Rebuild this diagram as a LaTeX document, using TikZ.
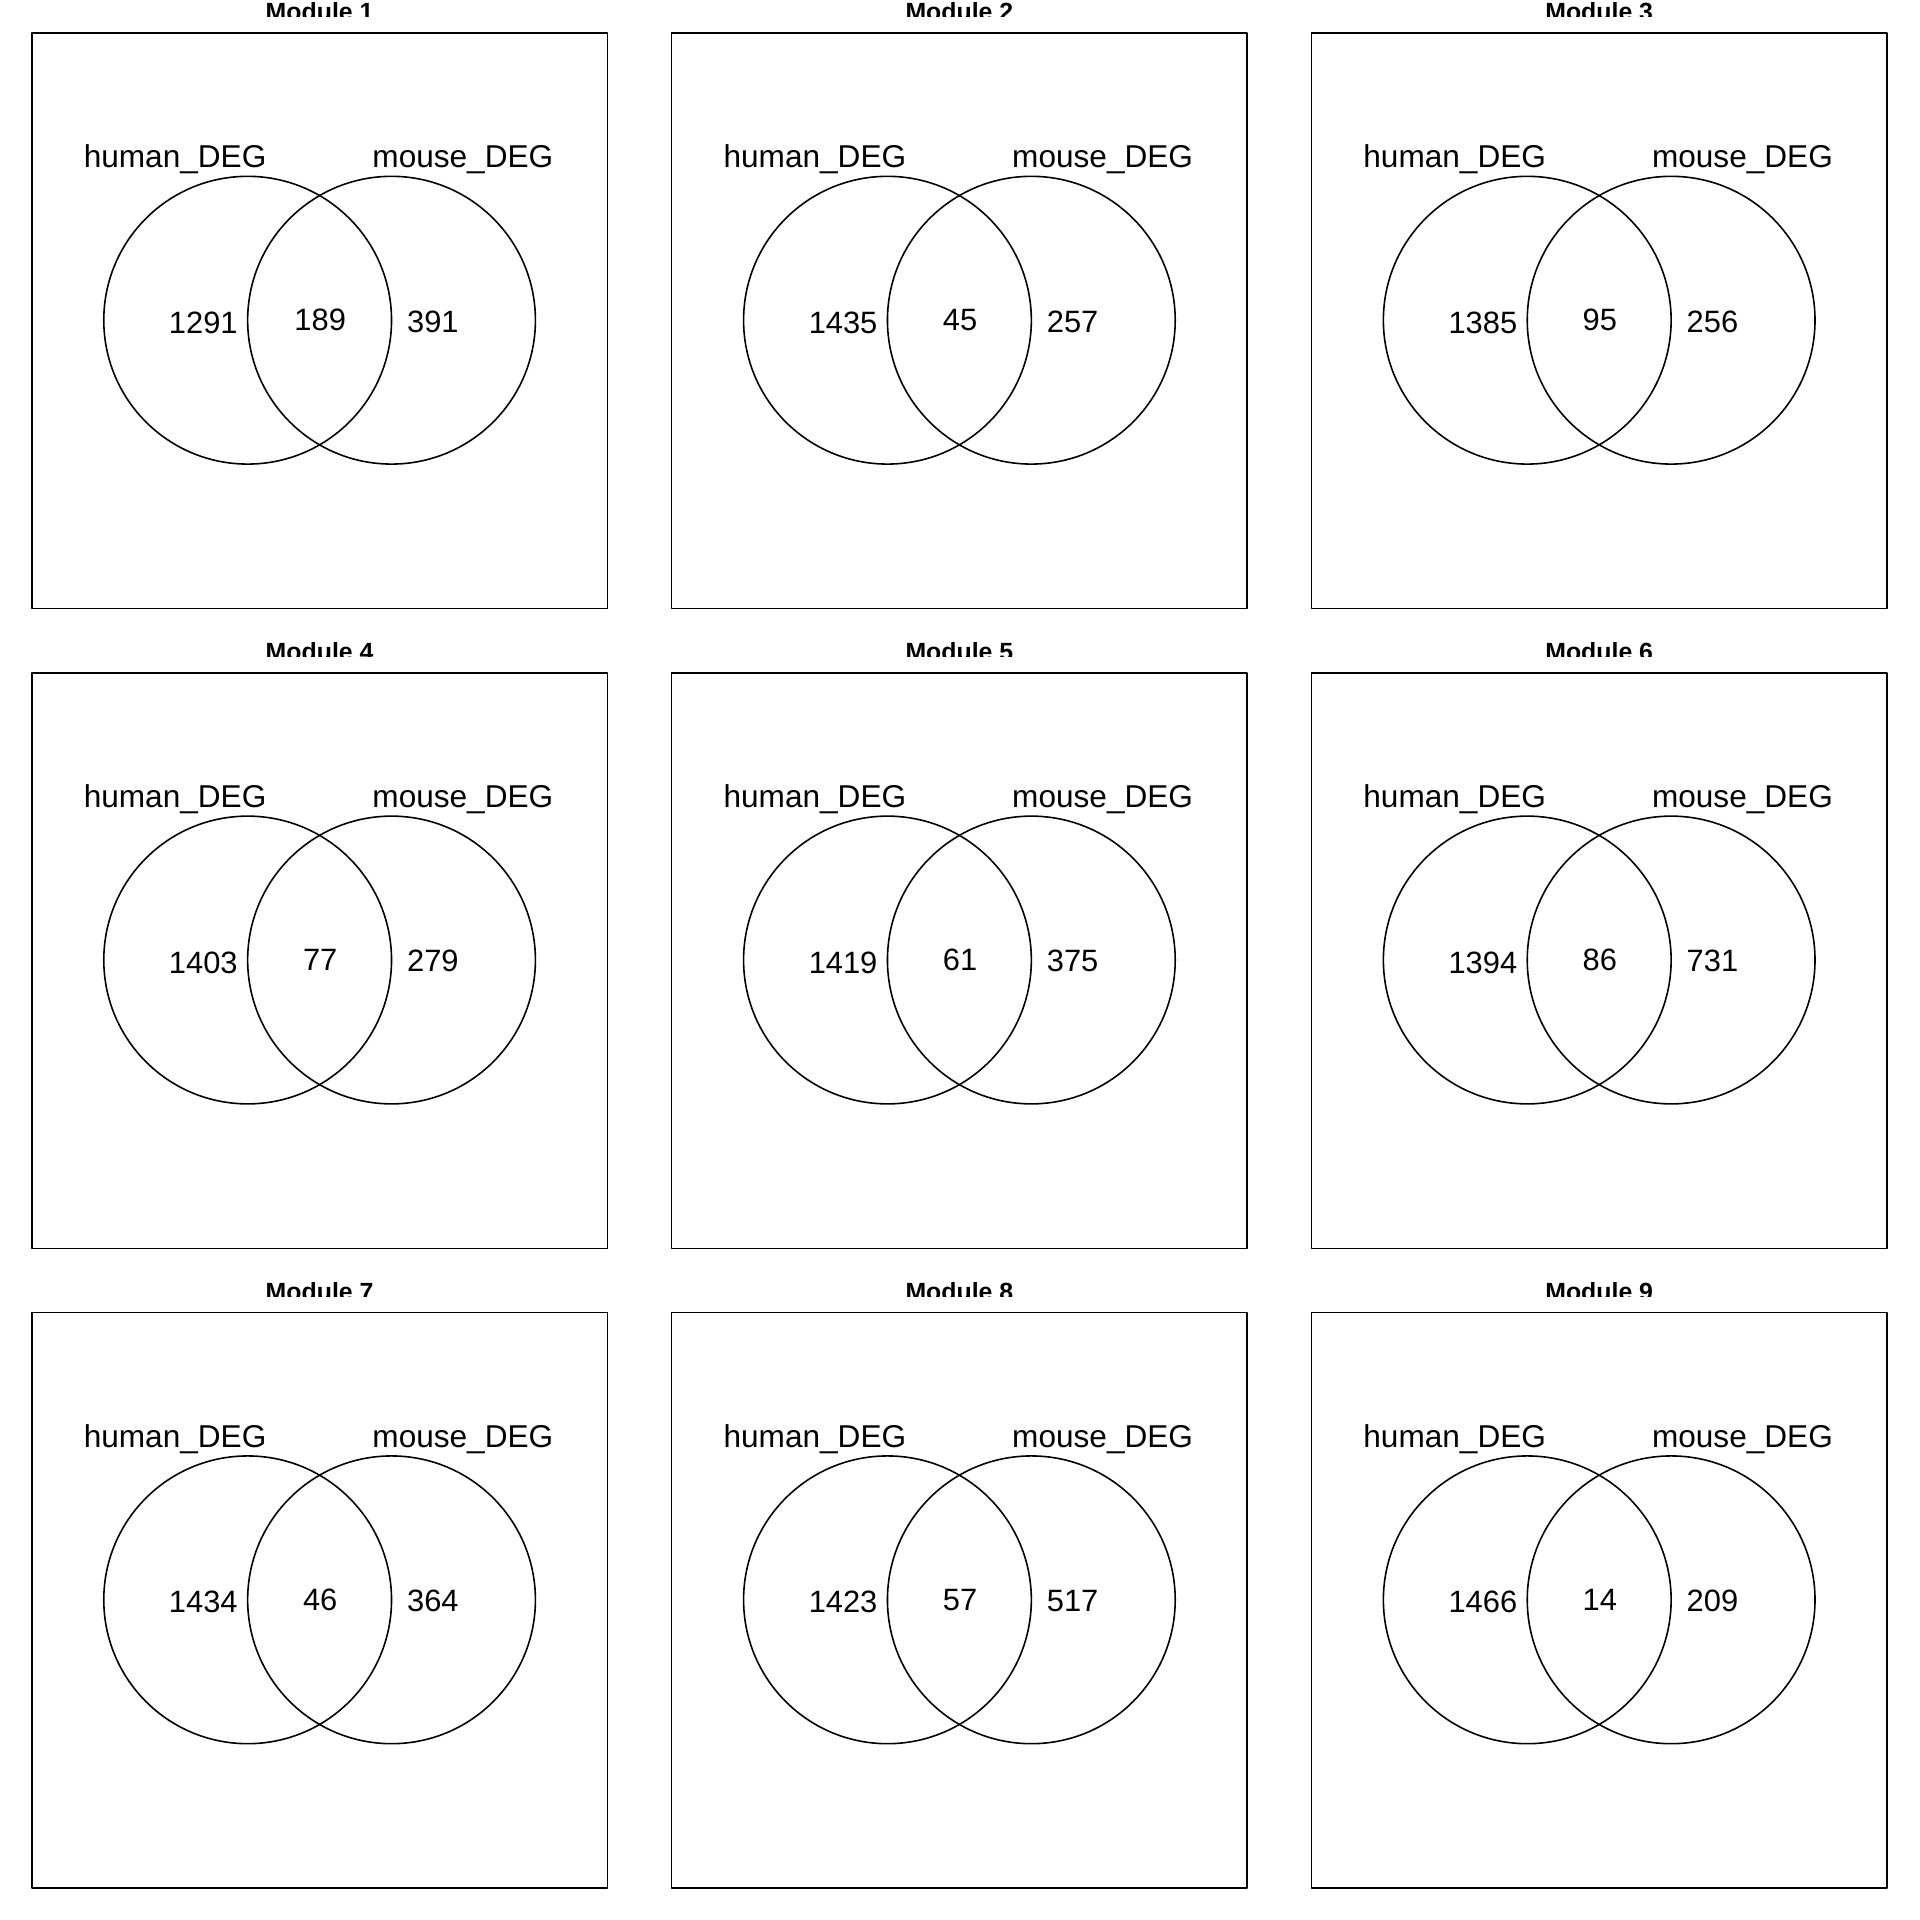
\documentclass[tikz,border=0pt]{standalone}
\usepackage{fontspec}
\setmainfont{Liberation Sans}
\tikzset{
  panel/.style={draw, line width=1.3pt},
  setcirc/.style={draw, line width=1.3pt},
  setlabel/.style={anchor=base, inner sep=0pt, font=\fontsize{25.8}{30}\selectfont},
  count/.style={inner sep=0pt, font=\fontsize{25.2}{30}\selectfont},
  paneltitle/.style={anchor=base, inner sep=0pt, font=\fontsize{20.3}{24}\selectfont\bfseries},
}
\begin{document}
\begin{tikzpicture}[x=1pt, y=-1pt, line join=round]
        \useasboundingbox (0,0) rectangle (1568,1568);
        \pgfmathsetmacro{\W}{470}
        \pgfmathsetmacro{\gap}{522.5}
        \pgfmathsetmacro{\R}{117.5}
        \foreach \m/\a/\b/\c in {1/1291/189/391, 2/1435/45/257, 3/1385/95/256,
                                 4/1403/77/279, 5/1419/61/375, 6/1394/86/731,
                                 7/1434/46/364, 8/1423/57/517, 9/1466/14/209} {
            \pgfmathtruncatemacro{\col}{mod(\m-1, 3)}
            \pgfmathtruncatemacro{\row}{div(\m-1, 3)}
            \pgfmathsetmacro{\bx}{26 + \gap*\col}
            \pgfmathsetmacro{\by}{27 + \gap*\row}
            \coordinate (hc\m) at (\bx+176.25, \by+234.5);
            \coordinate (mc\m) at (\bx+293.75, \by+234.5);
            \draw[panel] (\bx, \by) rectangle ++(\W, \W);
            % title is cut off by the plot region
            \begin{scope}
                \clip (\bx, \by-60) rectangle (\bx+\W, \by-13.6);
                \node[paneltitle] (t\m) at (\bx+235, \by-10) {Module \m};
            \end{scope}
            \draw[setcirc] (hc\m) circle[radius=\R pt];
            \draw[setcirc] (mc\m) circle[radius=\R pt];
            \node[setlabel] (hl\m) at (\bx+117, \by+110) {human\_DEG};
            \node[setlabel] (ml\m) at (\bx+352, \by+110) {mouse\_DEG};
            \node[count] (na\m) at (\bx+140, \by+236.5) {\a};
            \node[count] (nb\m) at (\bx+235.5, \by+234.5) {\b};
            \node[count] (nc\m) at (\bx+327.5, \by+235.5) {\c};
        }
\end{tikzpicture}
\end{document}
